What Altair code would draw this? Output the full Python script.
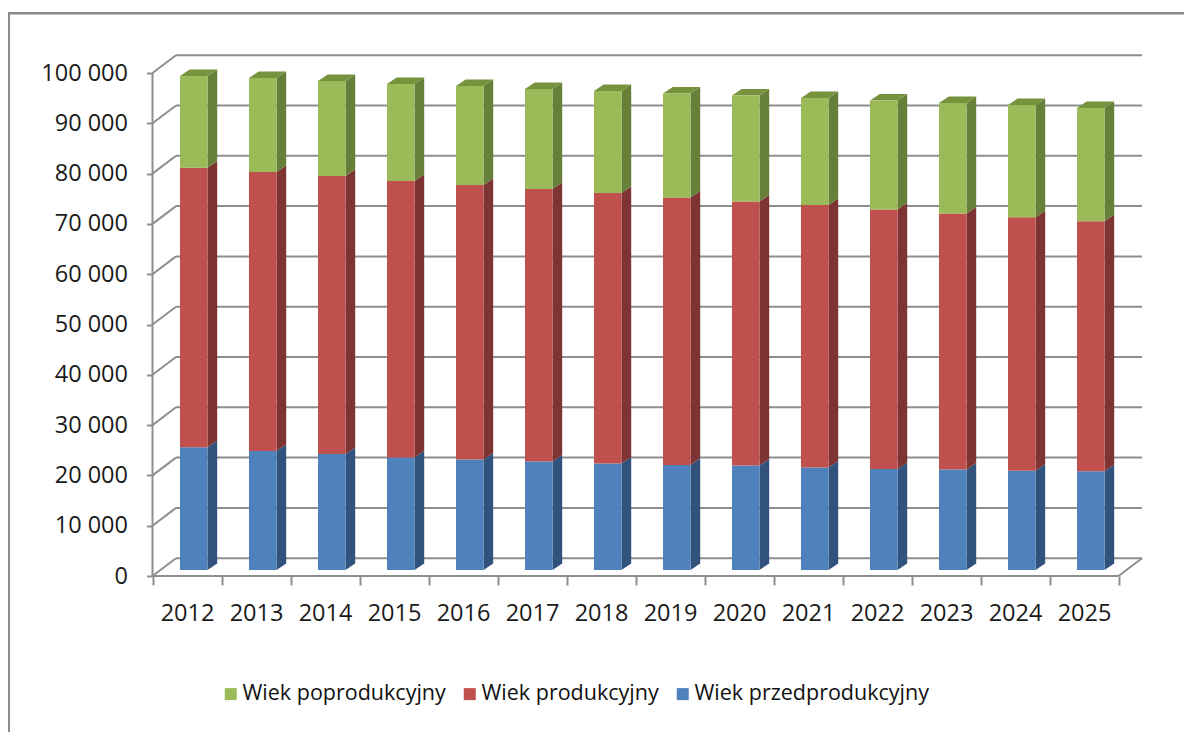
import altair as alt
import pandas as pd

years = list(range(2012, 2026))
pre = [24390, 23660, 23060, 22370, 21970, 21570, 21170, 20880, 20780, 20380, 20080, 19980, 19740, 19620]
prod = [55590, 55460, 55270, 54970, 54570, 54180, 53780, 53180, 52480, 52180, 51590, 50890, 50380, 49700]
post = [18230, 18690, 18890, 19280, 19680, 19880, 20280, 20670, 21070, 21280, 21670, 21970, 22330, 22530]
series = ["Wiek poprodukcyjny", "Wiek produkcyjny", "Wiek przedprodukcyjny"]
front_colors = ["#9BBB59", "#C0504D", "#4F81BD"]
side_colors = ["#66803A", "#7D3432", "#31527C"]
top_color = "#76923C"
y_ticks = list(range(0, 100001, 10000))

LINE = "#8E8E8E"
W, H = 1176, 724
PX_X = 69.0      # pixels per category
PX_Y = 50.3 / 10000  # pixels per unit
X0, Y0 = 152.5 - 8, 576 - 8   # pixel position of the front origin inside the chart
xs = alt.Scale(domain=[-X0 / PX_X, (W - X0) / PX_X], range=[0, W], nice=False, zero=False)
ys = alt.Scale(domain=[-(H - Y0) / PX_Y, Y0 / PX_Y], range=[H, 0], nice=False, zero=False)

WALL_DX, WALL_DV = 23.5 / PX_X, 17.8 / PX_Y
BAR_L, BAR_W = 27.5 / PX_X, 27.5 / PX_X
BAR_DV = 6 / PX_Y
DEPTH_X, DEPTH_V = 9.7 / PX_X, 6.6 / PX_Y

rows, sides, tops = [], [], []
for i, yr in enumerate(years):
    base = BAR_DV
    l = i + BAR_L
    r = l + BAR_W
    for name, val, fc, sc in zip(series[::-1], [pre[i], prod[i], post[i]], front_colors[::-1], side_colors[::-1]):
        rows.append(dict(s=name, xl=l, xr=r, v0=base, v1=base + val))
        sides.append(dict(k=f"{yr}{name}", c=sc, x=r, a=base, b=base + val))
        sides.append(dict(k=f"{yr}{name}", c=sc, x=r + DEPTH_X, a=base + DEPTH_V, b=base + val + DEPTH_V))
        base += val
    tops.append(dict(k=yr, v=base, a=l, b=r))
    tops.append(dict(k=yr, v=base + DEPTH_V, a=l + DEPTH_X, b=r + DEPTH_X))

X = lambda f: alt.X(f, type="quantitative", scale=xs, title=None, axis=None)
Y = lambda f: alt.Y(f, type="quantitative", scale=ys, title=None, axis=None)

# frame
frame = alt.Chart(pd.DataFrame({"a": [0]})).mark_rule(color="#8A8A8A", strokeWidth=2.5)
frame_top = frame.encode(x=alt.value(0), x2=alt.value(W), y=alt.value(5.3), y2=alt.value(5.3))
frame_left = frame.encode(x=alt.value(0.7), x2=alt.value(0.7), y=alt.value(5), y2=alt.value(H))

# walls
wall_df = pd.DataFrame({"v": y_ticks})
wall_df["vb"] = wall_df.v + WALL_DV
wall_df["x0"] = 0.0
wall_df["xb"] = WALL_DX
wall_df["xe"] = 14 + WALL_DX
wall = alt.Chart(wall_df).mark_rule(color=LINE, strokeWidth=2)
back_lines = wall.encode(x=X("xb"), x2="xe", y=Y("vb"), y2="vb")
diag = wall.encode(x=X("x0"), x2="xb", y=Y("v"), y2="vb")
vert = alt.Chart(pd.DataFrame({"x": [0.0], "a": [0], "b": [100000]})).mark_rule(color=LINE, strokeWidth=2).encode(
    x=X("x"), y=Y("a"), y2="b")
floor = alt.Chart(pd.DataFrame({"a": [0.0], "b": [14.0], "v": [0]})).mark_rule(color=LINE, strokeWidth=2).encode(
    x=X("a"), x2="b", y=Y("v"))
right = alt.Chart(pd.DataFrame({"a": [14.0], "b": [14 + WALL_DX], "v": [0], "w": [WALL_DV]})).mark_rule(
    color=LINE, strokeWidth=2).encode(x=X("a"), x2="b", y=Y("v"), y2="w")

# axes
label_font = "Open Sans"
y_axis = alt.Chart(wall_df).mark_point(opacity=0).encode(
    x=X("x0"),
    y=alt.Y("v:Q", scale=ys, title=None, axis=alt.Axis(
        orient="left", values=y_ticks, offset=-X0, domain=False, grid=False, tickSize=6, tickColor=LINE, tickWidth=2,
        labelPadding=19, labelFont=label_font, labelFontSize=23.5, labelColor="#1a1a1a", labelOverlap=False,
        labelExpr="replace(format(datum.value, ','), ',', ' ')")),
)
tick_vals = list(range(0, 15))
lab_vals = [i + 0.5 for i in range(14)]
x_ticks = alt.Chart(pd.DataFrame({"q": tick_vals, "v": [0] * 15})).mark_point(opacity=0).encode(
    y=Y("v"),
    x=alt.X("q:Q", scale=xs, title=None, axis=alt.Axis(
        orient="bottom", values=tick_vals, offset=-(H - Y0), domain=False, grid=False, labels=False, tickSize=9,
        tickColor=LINE, tickWidth=2)),
)
x_labels = alt.Chart(pd.DataFrame({"q": lab_vals, "v": [0] * 14})).mark_point(opacity=0).encode(
    y=Y("v"),
    x=alt.X("q:Q", scale=xs, title=None, axis=alt.Axis(
        orient="bottom", values=lab_vals, offset=-(H - Y0), domain=False, grid=False, ticks=False, labelPadding=25,
        labelFont=label_font, labelFontSize=23.5, labelColor="#1a1a1a", labelBound=False, labelOverlap=False,
        labelExpr="format(2012 + floor(datum.value), 'd')")),
)

# bars
front = alt.Chart(pd.DataFrame(rows)).mark_bar().encode(
    x=X("xl"), x2="xr", y=Y("v0"), y2="v1",
    color=alt.Color("s:N", scale=alt.Scale(domain=series, range=front_colors), legend=alt.Legend(
        orient="none", legendX=212, legendY=675, direction="horizontal", columns=3, title=None,
        symbolType="square", symbolSize=144, symbolStrokeWidth=0, symbolOpacity=1, labelLimit=400,
        labelFont=label_font, labelFontSize=21.5, labelColor="#111111", columnPadding=13, labelOffset=1)),
)
side = alt.Chart(pd.DataFrame(sides)).mark_area().encode(
    x=X("x"), y=Y("a"), y2="b", detail="k:N", color=alt.Color("c:N", scale=None),
)
top = alt.Chart(pd.DataFrame(tops)).mark_area(orient="horizontal", color=top_color).encode(
    y=Y("v"), x=X("a"), x2="b", detail="k:N",
)

chart = alt.layer(
    frame_top, frame_left, back_lines, diag, vert, floor, right, y_axis, x_ticks, x_labels, side, top, front
).resolve_scale(color="independent").resolve_axis(x="independent", y="independent").properties(
    width=W, height=H, padding=0, background="white", autosize=alt.AutoSizeParams(type="none")
).configure_view(stroke=None)

chart.save("out.html", embed_options={"renderer": "svg", "actions": False})
